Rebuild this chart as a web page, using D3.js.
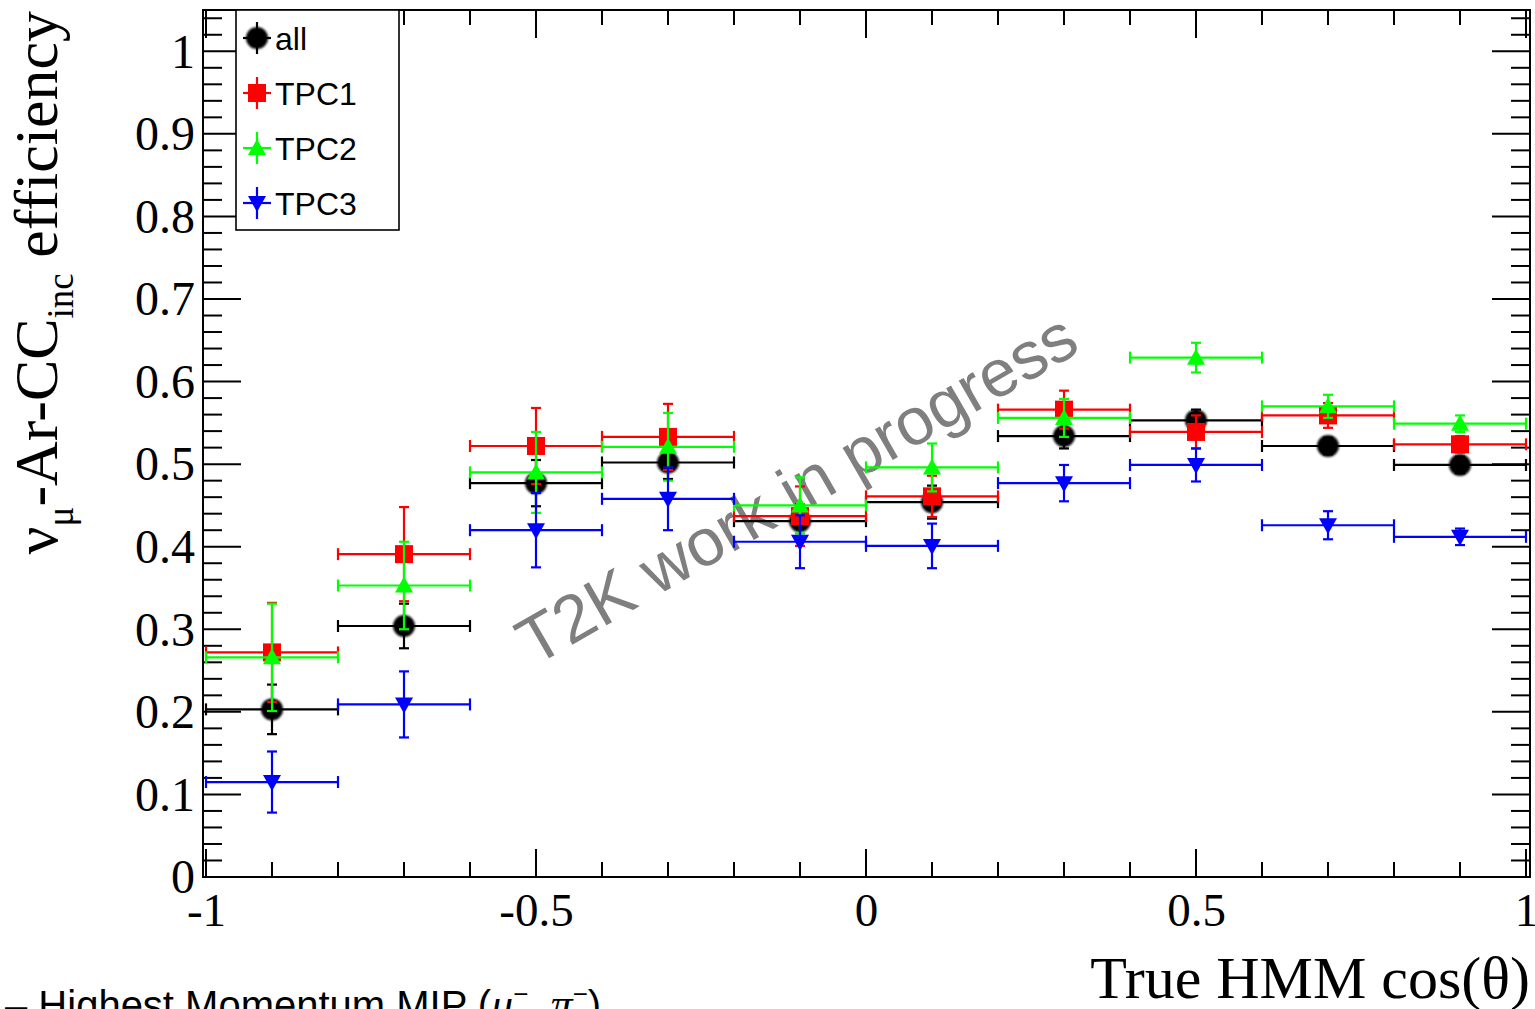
<!DOCTYPE html>
<html><head><meta charset="utf-8">
<script src="https://cdn.jsdelivr.net/npm/d3@7"></script>
<style>html,body{margin:0;padding:0;background:#fff;overflow:hidden}</style>
</head><body>
<svg id="c" width="1535" height="1009"></svg>
<script>
// ---- data ----
const binCenters = [-0.9,-0.7,-0.5,-0.3,-0.1,0.1,0.3,0.5,0.7,0.9];
const binHalfWidth = 0.1;
const allEff  = [0.203,0.304,0.477,0.502,0.431,0.454,0.534,0.553,0.522,0.499];
const allErr  = [0.030,0.027,0.028,0.020,0.020,0.020,0.015,0.013,0.010,0.010];
const tpc1Eff = [0.272,0.391,0.522,0.533,0.437,0.461,0.566,0.539,0.559,0.524];
const tpc1Err = [0.060,0.057,0.046,0.040,0.036,0.025,0.023,0.020,0.015,0.010];
const tpc2Eff = [0.266,0.353,0.490,0.521,0.450,0.496,0.556,0.629,0.570,0.549];
const tpc2Err = [0.065,0.053,0.049,0.041,0.034,0.029,0.023,0.018,0.014,0.010];
const tpc3Eff = [0.115,0.209,0.420,0.458,0.406,0.401,0.477,0.499,0.426,0.412];
const tpc3Err = [0.037,0.040,0.045,0.038,0.032,0.027,0.022,0.020,0.017,0.010];
const seriesNames = ["all","TPC1","TPC2","TPC3"];
const xMajorTicks = [-1,-0.5,0,0.5,1];
const xTickLabels = ["-1","-0.5","0","0.5","1"];
const yMajorTicks = [0,0.1,0.2,0.3,0.4,0.5,0.6,0.7,0.8,0.9,1];
const yTickLabels = ["0","0.1","0.2","0.3","0.4","0.5","0.6","0.7","0.8","0.9","1"];

// ---- layout ----
const svg = d3.select("#c");
const x = d3.scaleLinear().domain([-1,1]).range([206,1526]);
const y = d3.scaleLinear().domain([0,1.05]).range([877,10]);
const frame = {l:203, r:1530, t:10, b:877};
const serif = "'Liberation Serif','Times New Roman',serif";
const sans = "'Liberation Sans',Arial,Helvetica,sans-serif";

const defs = svg.append("defs");
defs.append("filter").attr("id","soft").append("feGaussianBlur").attr("stdDeviation",1.1);

// watermark (drawn under data)
svg.append("text").attr("transform",`translate(534,667) rotate(-30)`)
  .attr("font-family",sans).attr("font-size",67).attr("fill","#7f7f7f")
  .text("T2K work in progress");

// ---- axes ticks ----
const xMinor = d3.range(-10,11).map(i=>i/10);
const yMinor = d3.range(0,53).map(i=>i/50).filter(v=>v<=1.045);
const g = svg.append("g").attr("stroke","#000").attr("stroke-width",2);
xMinor.forEach(v=>{
  const major = xMajorTicks.some(m=>Math.abs(m-v)<1e-9);
  const len = major?28:15;
  g.append("line").attr("x1",x(v)).attr("x2",x(v)).attr("y1",frame.b).attr("y2",frame.b-len);
  g.append("line").attr("x1",x(v)).attr("x2",x(v)).attr("y1",frame.t).attr("y2",frame.t+len);
});
yMinor.forEach(v=>{
  const major = Math.abs(v*10-Math.round(v*10))<1e-9;
  const len = major?38:19;
  g.append("line").attr("x1",frame.l).attr("x2",frame.l+len).attr("y1",y(v)).attr("y2",y(v));
  g.append("line").attr("x1",frame.r).attr("x2",frame.r-len).attr("y1",y(v)).attr("y2",y(v));
});
svg.append("rect").attr("x",frame.l).attr("y",frame.t).attr("width",frame.r-frame.l).attr("height",frame.b-frame.t)
  .attr("fill","none").attr("stroke","#000").attr("stroke-width",2);

// tick labels via d3 axes
const xAxis = d3.axisBottom(x).tickValues(xMajorTicks).tickSize(0)
  .tickFormat((d,i)=>xTickLabels[i]);
const gx = svg.append("g").attr("transform",`translate(0,${frame.b})`).call(xAxis);
gx.select(".domain").remove();
gx.selectAll("text").attr("font-family",serif).attr("font-size",47).attr("fill","#000").attr("dy",null).attr("y",49);
const yAxis = d3.axisLeft(y).tickValues(yMajorTicks).tickSize(0)
  .tickFormat((d,i)=>yTickLabels[i]);
const gy = svg.append("g").attr("transform",`translate(${frame.l-8},0)`).call(yAxis);
gy.select(".domain").remove();
gy.selectAll("text").attr("font-family",serif).attr("font-size",48).attr("fill","#000").attr("x",0).attr("dy","0.33em");

// ---- series ----
const series = [
  {name:"all", v:allEff, e:allErr, color:"#000000", marker:"circle"},
  {name:"TPC1", v:tpc1Eff, e:tpc1Err, color:"#ff0000", marker:"square"},
  {name:"TPC2", v:tpc2Eff, e:tpc2Err, color:"#00ff00", marker:"triUp"},
  {name:"TPC3", v:tpc3Eff, e:tpc3Err, color:"#0000ff", marker:"triDown"}
];
function drawMarker(sel, type, cx, cy, color){
  if(type==="circle"){
    sel.append("circle").attr("cx",cx).attr("cy",cy).attr("r",11).attr("fill",color).attr("filter","url(#soft)");
  } else if(type==="square"){
    sel.append("rect").attr("x",cx-9).attr("y",cy-9).attr("width",18).attr("height",18).attr("fill",color);
  } else if(type==="triUp"){
    sel.append("path").attr("d",`M${cx-9},${cy+7}L${cx+9},${cy+7}L${cx},${cy-9}Z`).attr("fill",color);
  } else {
    sel.append("path").attr("d",`M${cx-9},${cy-7}L${cx+9},${cy-7}L${cx},${cy+9}Z`).attr("fill",color);
  }
}
const cap = 5;
series.forEach(s=>{
  const gs = svg.append("g");
  binCenters.forEach((c,i)=>{
    const cx = x(c), cy = y(s.v[i]);
    const xl = x(c-binHalfWidth), xr = x(c+binHalfWidth);
    const yt = y(s.v[i]+s.e[i]), yb = y(s.v[i]-s.e[i]);
    const lg = gs.append("g").attr("stroke",s.color).attr("stroke-width",2.2);
    lg.append("line").attr("x1",xl).attr("x2",xr).attr("y1",cy).attr("y2",cy);
    lg.append("line").attr("x1",xl).attr("x2",xl).attr("y1",cy-cap-1).attr("y2",cy+cap+1);
    lg.append("line").attr("x1",xr).attr("x2",xr).attr("y1",cy-cap-1).attr("y2",cy+cap+1);
    lg.append("line").attr("x1",cx).attr("x2",cx).attr("y1",yt).attr("y2",yb);
    lg.append("line").attr("x1",cx-cap).attr("x2",cx+cap).attr("y1",yt).attr("y2",yt);
    lg.append("line").attr("x1",cx-cap).attr("x2",cx+cap).attr("y1",yb).attr("y2",yb);
    drawMarker(gs, s.marker, cx, cy, s.color);
  });
});

// ---- legend ----
const leg = svg.append("g");
leg.append("rect").attr("x",236).attr("y",10).attr("width",163).attr("height",220)
  .attr("fill","#fff").attr("stroke","#000").attr("stroke-width",1.6);
series.forEach((s,i)=>{
  const cy = 38 + i*55, cx = 257;
  const lg = leg.append("g").attr("stroke",s.color).attr("stroke-width",2.2);
  lg.append("line").attr("x1",cx-14).attr("x2",cx+14).attr("y1",cy).attr("y2",cy);
  lg.append("line").attr("x1",cx).attr("x2",cx).attr("y1",cy-16).attr("y2",cy+16);
  drawMarker(leg, s.marker, cx, cy, s.color);
  leg.append("text").attr("x",275).attr("y",cy+12).attr("font-family",sans).attr("font-size",32)
    .attr("fill","#000").text(s.name);
});

// ---- axis titles ----
const yt = svg.append("text").attr("transform","translate(57,11) rotate(-90)")
  .attr("text-anchor","end").attr("font-family",serif).attr("font-size",62).attr("fill","#000");
yt.append("tspan").text("ν");
yt.append("tspan").attr("font-size",37).attr("dy",16).text("μ");
yt.append("tspan").attr("dy",-16).text("-Ar-CC");
yt.append("tspan").attr("font-size",37).attr("dy",16).text("inc");
yt.append("tspan").attr("dy",-16).text(" efficiency");

svg.append("text").attr("x",1530).attr("y",998).attr("text-anchor","end")
  .attr("font-family",serif).attr("font-size",60).attr("fill","#000").text("True HMM cos(θ)");

// ---- cut-off footnote ----
const ft = svg.append("text").attr("x",5).attr("y",1019).attr("font-family",sans).attr("font-size",40).attr("fill","#000");
ft.append("tspan").text("– Highest Momentum MIP (");
ft.append("tspan").attr("font-family",serif).attr("font-style","italic").attr("font-size",44).text("μ");
ft.append("tspan").attr("font-size",26).attr("dy",-16).text("−");
ft.append("tspan").attr("dy",16).text(", ");
ft.append("tspan").attr("font-family",serif).attr("font-style","italic").attr("font-size",44).text("π");
ft.append("tspan").attr("font-size",26).attr("dy",-16).text("−");
ft.append("tspan").attr("dy",16).text(")");
</script>
</body></html>
